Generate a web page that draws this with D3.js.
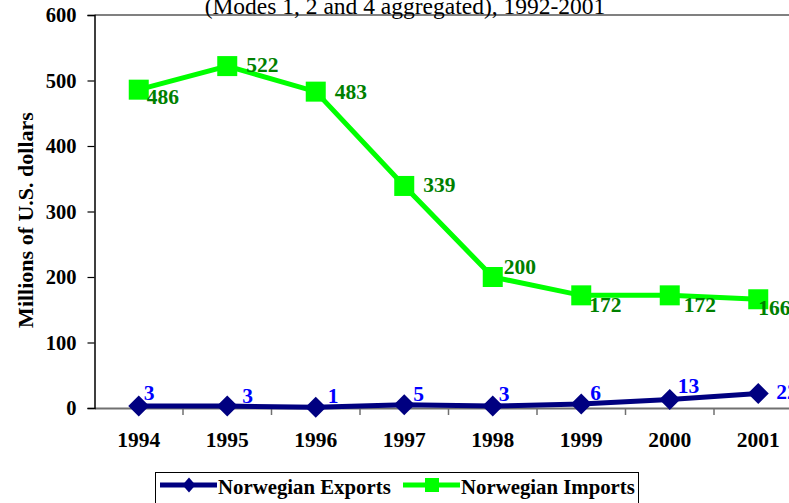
<!DOCTYPE html>
<html><head><meta charset="utf-8">
<script src="https://cdn.jsdelivr.net/npm/d3@7"></script>
<style>body{margin:0;background:#fff;overflow:hidden}svg{display:block}text{font-family:"Liberation Serif","Times New Roman",serif;font-weight:bold}</style>
</head><body><svg id="c" width="789" height="503"></svg>
<script>
const years = ["1994","1995","1996","1997","1998","1999","2000","2001"];
const exportsVals = [3,3,1,5,3,6,13,22];
const importsVals = [486,522,483,339,200,172,172,166];
const yTicks = [0,100,200,300,400,500,600];
const title = "(Modes 1, 2 and 4 aggregated), 1992-2001";
const yTitle = "Millions of U.S. dollars";
const seriesNames = ["Norwegian Exports","Norwegian Imports"];
// label offsets (style: placement of data labels relative to markers)
const importLabelDx = [8,19,19,19,11,8,14,0];
const importLabelDy = [14,6,7,6,-3,17,17,16];
const exportLabelDx = [5,15,12,9,6,9,8,18];
const exportLabelDy = [-6,-3,-4,-4,-5,-4,-6,5];

(function(){
const svg = d3.select("#c");
const mLeft = 94.5, mTop = 15, mBottom = 408, bw = 88.5;
const x = d3.scaleBand().domain(years).range([mLeft, mLeft + bw*8]);
const y = d3.scaleLinear().domain([0,600]).range([mBottom, mTop]);
const cx = d => x(d) + x.bandwidth()/2;
const FS = "21.5px";

svg.append("line").attr("x1",mLeft).attr("x2",800).attr("y1",mTop).attr("y2",mTop)
  .attr("stroke","#808080").attr("stroke-width",2);

svg.append("text").attr("x",405).attr("y",14).attr("text-anchor","middle")
  .style("font-weight","normal").style("font-size","23.5px").text(title);

const xa = svg.append("g").attr("transform",`translate(0,${mBottom})`)
  .call(d3.axisBottom(x).tickSize(0).tickPadding(24));
xa.select(".domain").attr("stroke","#707070").attr("stroke-width",2);
xa.selectAll(".tick text").style("font-size",FS).style("font-family","Liberation Serif").style("font-weight","bold").attr("fill","#000");
svg.append("g").selectAll("line").data(years).join("line")
  .attr("x1",d=>x(d)+x.bandwidth()).attr("x2",d=>x(d)+x.bandwidth())
  .attr("y1",mBottom).attr("y2",mBottom+7).attr("stroke","#707070").attr("stroke-width",1.5);

const ya = svg.append("g").attr("transform",`translate(${mLeft},0)`)
  .call(d3.axisLeft(y).tickValues(yTicks).tickSize(7).tickPadding(11));
ya.select(".domain").attr("stroke","#000").attr("stroke-width",1.5);
ya.selectAll(".tick line").attr("stroke","#000").attr("stroke-width",1.2);
ya.selectAll(".tick text").style("font-size","20.5px").style("font-family","Liberation Serif").style("font-weight","bold").attr("fill","#000");

svg.append("text").attr("transform","translate(33,220) rotate(-90)").attr("text-anchor","middle")
  .style("font-size","22px").text(yTitle);

const line = d3.line().x((d,i)=>cx(years[i])).y(d=>y(d));
const diamond = (w,h) => `M0,${-h/2}L${w/2},0L0,${h/2}L${-w/2},0Z`;

svg.append("path").datum(importsVals).attr("d",line).attr("fill","none")
  .attr("stroke","#00FF00").attr("stroke-width",5);
svg.append("g").selectAll("rect").data(importsVals).join("rect")
  .attr("x",(d,i)=>cx(years[i])-10).attr("y",d=>y(d)-10).attr("width",20).attr("height",20)
  .attr("fill","#00FF00");
svg.append("g").selectAll("text").data(importsVals).join("text")
  .attr("x",(d,i)=>cx(years[i]) + importLabelDx[i])
  .attr("y",(d,i)=>y(d) + importLabelDy[i])
  .attr("fill","#008000").style("font-size",FS).text(d=>d);

svg.append("path").datum(exportsVals).attr("d",line).attr("fill","none")
  .attr("stroke","#000080").attr("stroke-width",5);
svg.append("g").selectAll("path").data(exportsVals).join("path")
  .attr("transform",(d,i)=>`translate(${cx(years[i])},${y(d)})`).attr("d",diamond(21,21)).attr("fill","#000080");
svg.append("g").selectAll("text").data(exportsVals).join("text")
  .attr("x",(d,i)=>cx(years[i]) + exportLabelDx[i])
  .attr("y",(d,i)=>y(d) + exportLabelDy[i])
  .attr("fill","#0000FF").style("font-size",FS).text(d=>d);

const LFS = "20.8px";
const lg = svg.append("g");
lg.append("rect").attr("x",155.5).attr("y",472.5).attr("width",483).attr("height",40)
  .attr("fill","#fff").attr("stroke","#000").attr("stroke-width",1);
lg.append("line").attr("x1",160).attr("x2",217).attr("y1",485).attr("y2",485).attr("stroke","#000080").attr("stroke-width",5);
lg.append("path").attr("transform","translate(189,485)").attr("d",diamond(13,15)).attr("fill","#000080");
lg.append("text").attr("x",218).attr("y",494).style("font-size",LFS).text(seriesNames[0]);
lg.append("line").attr("x1",403).attr("x2",460).attr("y1",485).attr("y2",485).attr("stroke","#00FF00").attr("stroke-width",5);
lg.append("rect").attr("x",425).attr("y",478).attr("width",14).attr("height",14).attr("fill","#00FF00");
lg.append("text").attr("x",461).attr("y",494).style("font-size",LFS).text(seriesNames[1]);
})();
</script></body></html>
